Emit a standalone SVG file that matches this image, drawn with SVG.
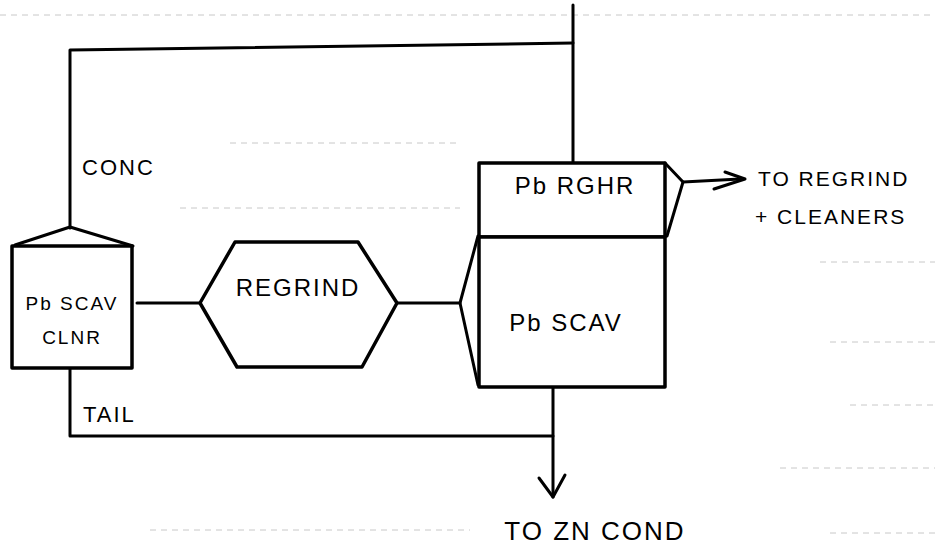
<svg xmlns="http://www.w3.org/2000/svg" width="935" height="550" viewBox="0 0 935 550">
<defs>
<style>
.ln{fill:none;stroke:#000;stroke-width:3;stroke-linejoin:round;stroke-linecap:round}
.bx{fill:#fff;stroke:#000;stroke-width:3.5;stroke-linejoin:round}
.t{font-family:"Liberation Sans","DejaVu Sans",sans-serif;fill:#000;letter-spacing:2px}
.rule{stroke:#c8c8c8;stroke-width:1;stroke-dasharray:6 5;fill:none}
</style>
</defs>
<rect width="935" height="550" fill="#fff"/>
<g id="ruling">
<line class="rule" x1="0" y1="15" x2="935" y2="15"/>
<line class="rule" x1="230" y1="143" x2="460" y2="143"/>
<line class="rule" x1="180" y1="208" x2="460" y2="208"/>
<line class="rule" x1="820" y1="262" x2="935" y2="262"/>
<line class="rule" x1="830" y1="342" x2="935" y2="342"/>
<line class="rule" x1="850" y1="405" x2="935" y2="405"/>
<line class="rule" x1="780" y1="468" x2="935" y2="468"/>
<line class="rule" x1="150" y1="530" x2="470" y2="530"/>
<line class="rule" x1="830" y1="533" x2="935" y2="533"/>
</g>
<g id="connectors">
<polyline class="ln" points="573,5 573,163"/>
<polyline class="ln" points="573,43 70,50 70,228"/>
<line class="ln" x1="137" y1="303" x2="200" y2="303"/>
<line class="ln" x1="397" y1="303" x2="460" y2="303"/>
<polyline class="ln" points="70,368 70,436 553,436"/>
<polyline class="ln" points="553,388 553,497"/>
<polyline class="ln" points="539,478 553,497 565,475"/>
<line class="ln" x1="683" y1="182" x2="740" y2="179"/>
<polyline class="ln" points="714,189 745,179 725,172"/>
</g>
<g id="pb-scav-clnr">
<rect class="bx" x="12" y="246" width="120" height="122"/>
<polyline class="ln" points="15,245 70,227 133,246"/>
<text class="t" x="72" y="310" font-size="19" text-anchor="middle" letter-spacing="1">Pb SCAV</text>
<text class="t" x="72" y="344" font-size="19" text-anchor="middle">CLNR</text>
</g>
<g id="regrind">
<polygon class="bx" points="200,303 235,242 358,242 397,303 362,367 237,367"/>
<text class="t" x="298" y="296" font-size="24" text-anchor="middle">REGRIND</text>
</g>
<g id="pb-rghr">
<rect class="bx" x="479" y="163" width="186" height="74"/>
<polyline class="ln" points="665,163 683,182 667,236"/>
<text class="t" x="575" y="194" font-size="24" text-anchor="middle" letter-spacing="4">Pb RGHR</text>
</g>
<g id="pb-scav">
<rect class="bx" x="479" y="237" width="186" height="150"/>
<polyline class="ln" points="478,236 460,303 478,385"/>
<text class="t" x="566" y="331" font-size="24" text-anchor="middle">Pb SCAV</text>
</g>
<g id="labels">
<text class="t" x="82" y="175" font-size="22">CONC</text>
<text class="t" x="83" y="422" font-size="22">TAIL</text>
<text class="t" x="758" y="186" font-size="21">TO REGRIND</text>
<text class="t" x="755" y="224" font-size="21">+ CLEANERS</text>
<text class="t" x="595" y="540" font-size="26" text-anchor="middle">TO ZN COND</text>
</g>
</svg>
